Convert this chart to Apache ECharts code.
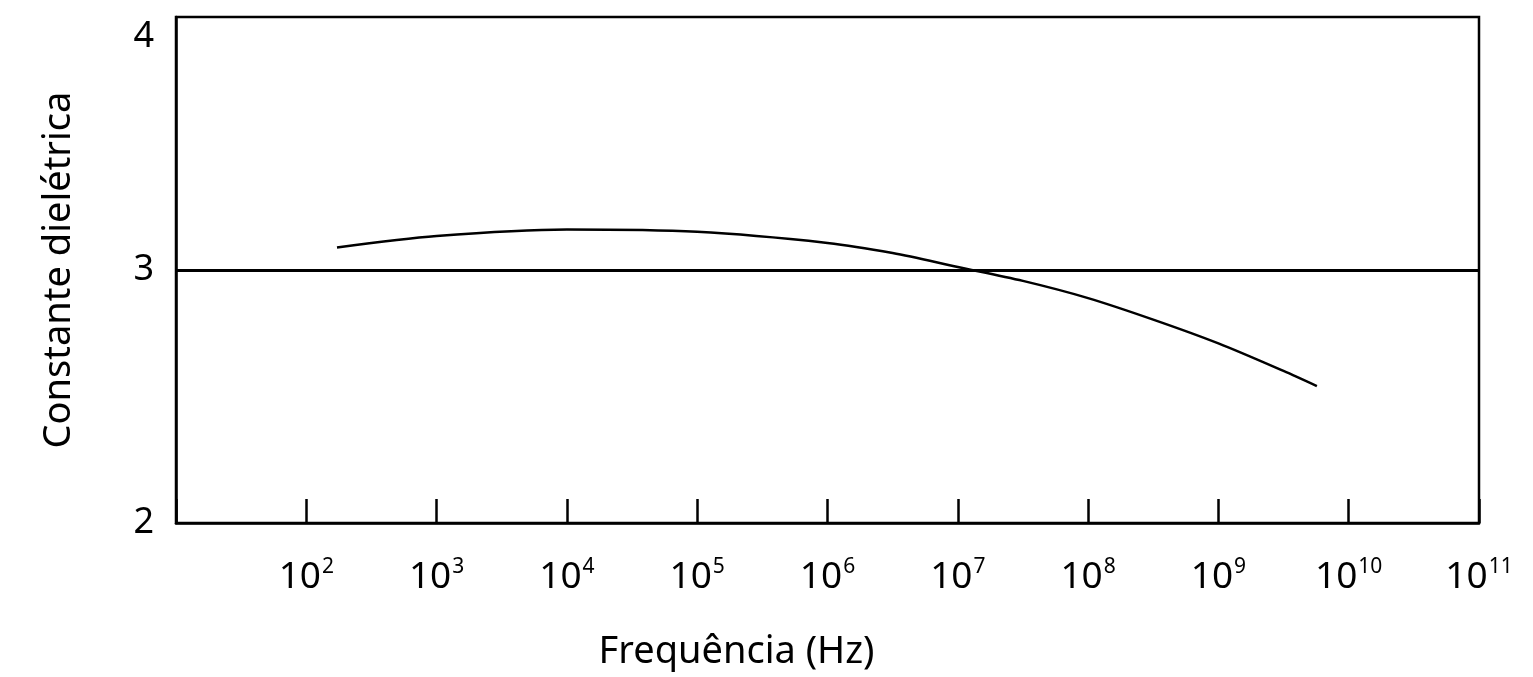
<!DOCTYPE html>
<html>
<head>
<meta charset="utf-8">
<script src="https://cdn.jsdelivr.net/npm/echarts@6/dist/echarts.min.js"></script>
<style>
  html, body { margin: 0; padding: 0; background: #fff; }
  #chart { width: 1533px; height: 677px; }
</style>
</head>
<body>
<div id="chart"></div>
<script>
// frequencia (Hz) e constante dieletrica
var freq = [172, 1e3, 1e4, 1e5, 1e6, 3.16e6, 1e7, 3.16e7, 1e8, 3.16e8, 1e9, 3.16e9, 5.7e9];
var constante = [3.089, 3.134, 3.160, 3.151, 3.107, 3.067, 3.012, 2.957, 2.889, 2.804, 2.710, 2.601, 2.541];
var linhaRef = 3;
var yTicks = [2, 3, 4];

var fonte = '"Noto Sans", "Open Sans", sans-serif';

var dados = [];
for (var i = 0; i < freq.length; i++) {
    dados.push([freq[i], constante[i]]);
}

var chart = echarts.init(document.getElementById('chart'));
var option = {
    animation: false,
    grid: {
        left: 176, right: 54, top: 17, bottom: 154,
        show: true, borderColor: '#000', borderWidth: 2.5
    },
    xAxis: {
        type: 'log',
        logBase: 10,
        min: 10,
        max: 1e11,
        interval: 1,
        name: 'Frequência (Hz)',
        nameLocation: 'middle',
        nameGap: 110,
        nameTextStyle: { fontSize: 38, color: '#000', fontFamily: fonte, padding: [0, 182, 0, 0] },
        axisLine: { show: true, lineStyle: { color: '#000', width: 2.5 } },
        axisTick: { show: true, inside: true, length: 24, lineStyle: { color: '#000', width: 2.5 } },
        splitLine: { show: false },
        minorTick: { show: false },
        axisLabel: {
            margin: 34,
            color: '#000',
            fontSize: 37,
            fontFamily: fonte,
            showMinLabel: true,
            showMaxLabel: true,
            formatter: function (v) {
                var e = Math.round(Math.log10(v));
                if (e === 1) return '';
                return '{b|10}{s|' + e + '}';
            },
            rich: {
                b: { fontSize: 37, fontFamily: fonte, color: '#000' },
                s: { fontSize: 21, fontFamily: fonte, color: '#000', padding: [0, 0, 20, 1] }
            }
        }
    },
    yAxis: {
        type: 'value',
        min: 2,
        max: 4,
        interval: 1,
        name: 'Constante dielétrica',
        nameLocation: 'middle',
        nameRotate: 90,
        nameGap: 98,
        nameTextStyle: { fontSize: 38, color: '#000', fontFamily: fonte },
        axisLine: { show: true, lineStyle: { color: '#000', width: 2.5 } },
        axisTick: { show: false },
        splitLine: { show: false },
        axisLabel: {
            margin: 22,
            color: '#000',
            fontSize: 36,
            fontFamily: fonte,
            formatter: function (v) {
                if (v === yTicks[2]) return '{t|' + v + '}';
                return String(v);
            },
            rich: {
                t: { fontSize: 36, fontFamily: fonte, color: '#000', padding: [40, 0, 0, 0] }
            }
        }
    },
    series: [
        {
            type: 'line',
            data: dados,
            smooth: 0.3,
            showSymbol: false,
            lineStyle: { color: '#000', width: 2.5 },
            markLine: {
                silent: true,
                symbol: 'none',
                label: { show: false },
                lineStyle: { color: '#000', width: 3, type: 'solid' },
                data: [{ yAxis: linhaRef }]
            }
        }
    ]
};
chart.setOption(option);
</script>
</body>
</html>
